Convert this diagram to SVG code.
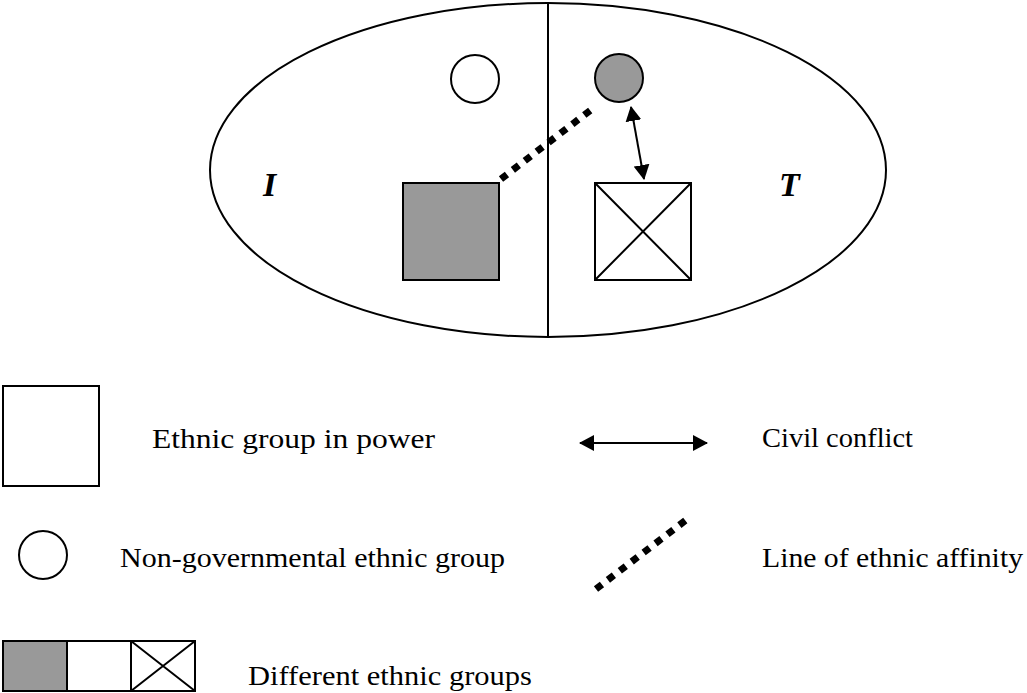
<svg xmlns="http://www.w3.org/2000/svg" width="1027" height="693" viewBox="0 0 1027 693">
<style>
.s{stroke:#000;stroke-width:2;}
.g{fill:#999;}
.w{fill:#fff;}
.t{font-family:"Liberation Serif","Times New Roman",serif;font-size:28px;fill:#000;}
.lbl{font-family:"Liberation Serif","Times New Roman",serif;font-size:34px;font-style:italic;font-weight:bold;fill:#000;}
.dot{stroke:#000;stroke-width:7;stroke-dasharray:7.5 7.5;fill:none;}
.arr{stroke:#000;stroke-width:2;fill:none;marker-start:url(#ah);marker-end:url(#ah);}
</style>
<defs>
<marker id="ah" viewBox="0 0 15 16" refX="14" refY="8" markerWidth="15" markerHeight="16" markerUnits="userSpaceOnUse" orient="auto-start-reverse">
<path d="M0,0 L15,8 L0,16 Z" fill="#000"/>
</marker>
</defs>
<rect width="1027" height="693" fill="#fff"/>
<g id="region">
<ellipse cx="548" cy="170" rx="338" ry="167" class="s" fill="none"/>
<line x1="548" y1="3" x2="548" y2="337" class="s"/>
<text x="263" y="196" class="lbl">I</text>
<text x="779" y="196" class="lbl">T</text>
</g>
<g id="node-white-circle"><circle cx="475" cy="79" r="24" class="s w"/></g>
<g id="node-gray-circle"><circle cx="619" cy="78" r="24" class="s g"/></g>
<g id="node-gray-square"><rect x="403" y="183" width="96" height="97" class="s g"/></g>
<g id="node-cross-square">
<rect x="595" y="183" width="96" height="97" class="s w"/>
<path d="M595,183 L691,280 M691,183 L595,280" class="s"/>
</g>
<g id="connectors">
<line x1="501" y1="179" x2="596" y2="106" class="dot"/>
<line x1="631" y1="107" x2="644" y2="179" class="arr"/>
</g>
<g id="legend-power">
<rect x="3" y="386" width="96" height="100" class="s w"/>
<text x="152" y="448" class="t" textLength="283" lengthAdjust="spacingAndGlyphs">Ethnic group in power</text>
</g>
<g id="legend-nongov">
<circle cx="43" cy="555" r="24" class="s w"/>
<text x="120" y="567" class="t" textLength="385" lengthAdjust="spacingAndGlyphs">Non-governmental ethnic group</text>
</g>
<g id="legend-groups">
<rect x="3" y="641" width="64" height="50" class="s g"/>
<rect x="67" y="641" width="64" height="50" class="s w"/>
<rect x="131" y="641" width="64" height="50" class="s w"/>
<path d="M131,641 L195,691 M195,641 L131,691" class="s"/>
<text x="248" y="685" class="t" textLength="284" lengthAdjust="spacingAndGlyphs">Different ethnic groups</text>
</g>
<g id="legend-conflict">
<line x1="580" y1="443" x2="707" y2="443" class="arr"/>
<text x="762" y="447" class="t" textLength="151" lengthAdjust="spacingAndGlyphs">Civil conflict</text>
</g>
<g id="legend-affinity">
<line x1="596" y1="589" x2="690" y2="517" class="dot"/>
<text x="762" y="567" class="t" textLength="261" lengthAdjust="spacingAndGlyphs">Line of ethnic affinity</text>
</g>
</svg>
